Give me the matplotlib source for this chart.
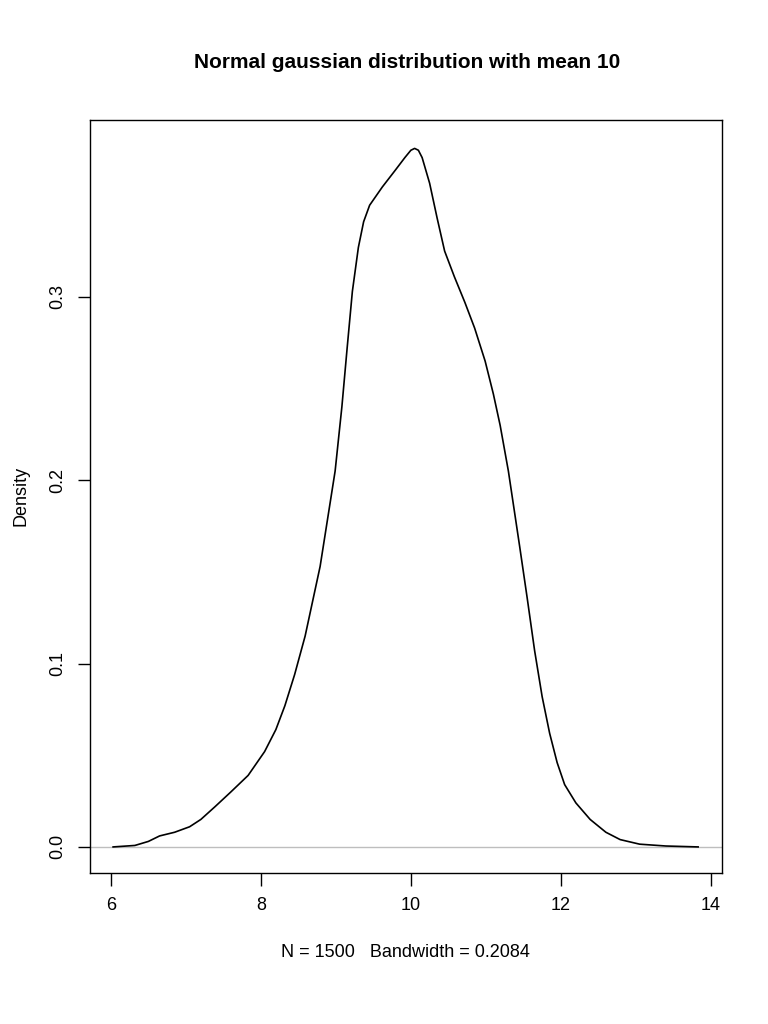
import matplotlib
matplotlib.use("Agg")
import matplotlib.pyplot as plt

plt.rcParams['font.family'] = ['Liberation Sans', 'DejaVu Sans']

xs = [6.03, 6.32, 6.5, 6.65, 6.85, 7.05, 7.2, 7.39, 7.6, 7.83, 8.05, 8.2, 8.32, 8.45,
      8.59, 8.79, 8.99, 9.08, 9.15, 9.22, 9.30, 9.37, 9.45, 9.62, 9.79, 9.92, 10.0,
      10.05, 10.1, 10.15, 10.25, 10.35, 10.45, 10.58, 10.72, 10.85, 10.99, 11.1, 11.19,
      11.3, 11.45, 11.55, 11.65, 11.75, 11.85, 11.95, 12.05, 12.2, 12.39, 12.6, 12.79,
      13.05, 13.4, 13.83]
ys = [0.0, 0.0008, 0.003, 0.006, 0.008, 0.011, 0.015, 0.022, 0.030, 0.039, 0.052, 0.064,
      0.077, 0.094, 0.115, 0.153, 0.205, 0.240, 0.272, 0.303, 0.327, 0.341, 0.350,
      0.360, 0.369, 0.376, 0.380, 0.381, 0.380, 0.376, 0.362, 0.343, 0.325, 0.311,
      0.297, 0.283, 0.265, 0.247, 0.230, 0.205, 0.164, 0.136, 0.107, 0.082, 0.062,
      0.046, 0.034, 0.024, 0.015, 0.008, 0.004, 0.0015, 0.0005, 0.0]
xticks = [6, 8, 10, 12, 14]
yticks = [0.0, 0.1, 0.2, 0.3]

fig = plt.figure(figsize=(7.68, 10.24), dpi=100)
ax = fig.add_axes([0.117, 0.1475, 0.823, 0.7355])
ax.axhline(0, color='#bebebe', lw=1)
ax.plot(xs, ys, color='black', lw=1.2)
ax.set_xlim(5.72, 14.147)
ax.set_ylim(-0.0142, 0.3966)
ax.set_xticks(xticks)
ax.set_xticklabels([str(t) for t in xticks], fontsize=13)
ax.set_yticks(yticks)
ax.set_yticklabels([f"{t:.1f}" for t in yticks], fontsize=13, rotation=90, va='center')
ax.tick_params(direction='out', length=9, width=1, pad=8)
for s in ax.spines.values():
    s.set_linewidth(1)
ax.set_ylabel("Density", fontsize=13, labelpad=14)
ax.set_xlabel("N = 1500   Bandwidth = 0.2084", fontsize=13, labelpad=22)
fig.text(0.53, 0.934, "Normal gaussian distribution with mean 10", ha='center',
         fontsize=15, fontweight='bold')
fig.savefig("out.png", dpi=100)
